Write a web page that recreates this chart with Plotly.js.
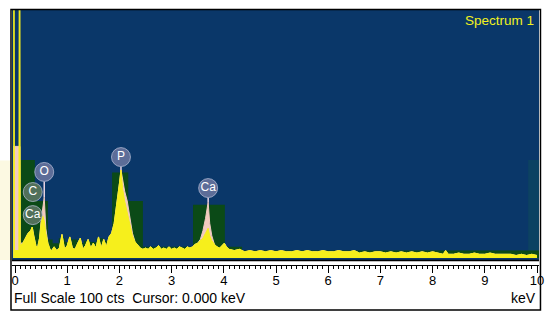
<!DOCTYPE html>
<html>
<head>
<meta charset="utf-8">
<script src="https://cdn.plot.ly/plotly-3.0.1.min.js"></script>
<style>html,body{margin:0;padding:0;background:#fff;}#chart{width:550px;height:320px;}</style>
</head>
<body>
<div id="chart"></div>
<script>
// Energy axis (keV) of the spectrum samples
const energy = [-0.035,-0.015,-0.01,0.075,0.08,0.095,0.10,0.15,0.20,0.25,0.30,0.33,0.36,0.40,0.43,0.47,0.50,0.53,0.56,0.59,0.63,0.67,0.70,0.75,0.80,0.85,0.90,0.95,1.00,1.05,1.10,1.15,1.20,1.25,1.30,1.35,1.40,1.45,1.50,1.55,1.60,1.65,1.70,1.75,1.80,1.85,1.90,1.95,2.00,2.03,2.06,2.10,2.15,2.20,2.25,2.30,2.35,2.40,2.45,2.50,2.55,2.60,2.65,2.70,2.75,2.80,2.85,2.90,2.95,3.00,3.05,3.10,3.15,3.20,3.25,3.30,3.35,3.40,3.45,3.50,3.55,3.60,3.65,3.70,3.73,3.77,3.82,3.87,3.92,3.97,4.01,4.05,4.10,4.20,4.30,4.40,4.50,4.60,4.70,4.80,4.90,5.00,5.10,5.20,5.30,5.40,5.50,5.60,5.70,5.80,5.90,6.00,6.10,6.20,6.30,6.40,6.50,6.60,6.70,6.80,6.90,7.00,7.10,7.20,7.30,7.40,7.50,7.60,7.70,7.80,7.90,8.00,8.10,8.20,8.25,8.30,8.40,8.50,8.60,8.70,8.80,8.90,9.00,9.10,9.20,9.30,9.40,9.50,9.60,9.70,9.80,9.90,10.00];
// Spectrum 1 counts (yellow)
const countsYellow = [105,105,3,3,105,105,5,6,8,10,11,12.5,9,5,4,8,14,17,15,10,6,3.5,3,4.5,3,4,9.5,3.5,5,8.5,4,3.5,6,8,3.5,5,7.5,4,6,4,8.5,4,7.5,4.5,8.5,10,14,21,30,35.5,28,23,18,13,9,6.5,5,4,3.5,4,3.5,4.5,3.5,4,5,3.5,4,3.5,4.5,3.5,4,3.5,4.5,4,3.5,4.5,4,4.5,5.5,6,7,8,10,12,9,7,5.5,4.5,4,5,6,4.5,3.5,3,3.5,2.5,3,2.5,3,2.5,3,2.5,3,2.5,2.5,3,2.5,3,2.5,2.5,3,2.5,2.5,3,2.5,2.5,3,2,2.5,2,2.5,2.5,2,2.5,2,2.5,2,2.5,2,2.5,2,2.5,2,1.5,3,1.5,1.5,2,1.5,1.5,2,1.5,1.5,2,1.5,1.5,1.5,1.5,1,1.5,1,1.5,1];
// Overlay counts (pink) showing above the yellow at the peak cores
const countsPink = [45,45,45,45,45,45,6,6,8,10,11,12.5,9,5,4,8,15,20,24.5,12,6,3.5,3,4.5,3,4,9.5,3.5,5,8.5,4,3.5,6,8,3.5,5,7.5,4,6,4,8.5,4,7.5,4.5,8.5,10,14,21,30,35.5,31,27,23,16,10,6.5,5,4,3.5,4,3.5,4.5,3.5,4,5,3.5,4,3.5,4.5,3.5,4,3.5,4.5,4,3.5,4.5,4,4.5,5.5,6,7.5,11,16,22.5,14,9,5.5,4.5,4,5,6,4.5,3.5,3,3.5,2.5,3,2.5,3,2.5,3,2.5,3,2.5,2.5,3,2.5,3,2.5,2.5,3,2.5,2.5,3,2.5,2.5,3,2,2.5,2,2.5,2.5,2,2.5,2,2.5,2,2.5,2,2.5,2,2.5,2,1.5,3,1.5,1.5,2,1.5,1.5,2,1.5,1.5,2,1.5,1.5,1.5,1.5,1,1.5,1,1.5,1];
// Stepped envelope (dark green)
const envEnergy = [0.09,0.38,0.63,0.72,0.84,0.96,1.08,1.20,1.32,1.44,1.56,1.68,1.86,2.17,2.45,3.41,4.02,4.35,10.04];
const envCounts = [39.5,23,7.5,6,8,6.5,7.5,6,7,6.5,8,7,34.5,23,4.5,21.5,4.5,3,3];
// Right-edge window
const winEnergy = [9.83,10.04];
const winCounts = [39.5,39.5];
// Element labels
const labelNames = ["P","Ca","O","C","Ca"];
const labelEnergy = [2.03,3.70,0.56,0.34,0.34];
const labelCounts = [40.7,28.2,34.7,26.6,17.3];
const labelPeak = [35.5,22.5,24.5,null,null];
const labelColors = ["#5d6d98","#5d6d98","#5d6d98","#52705a","#52705a"];
// Axis ticks
const tickVals = [0,1,2,3,4,5,6,7,8,9,10];
const tickText = ["0","1","2","3","4","5","6","7","8","9","10"];

const connX = [], connY = [];
labelNames.forEach((n,i)=>{
  if(labelPeak[i]!==null){connX.push(labelEnergy[i],labelEnergy[i],null);connY.push(labelCounts[i]-3.9,labelPeak[i],null);}
});

const traces = [
  {x:winEnergy,y:winCounts,type:'scatter',mode:'lines',fill:'tozeroy',fillcolor:'#0c4262',line:{width:0,shape:'hv'},hoverinfo:'skip'},
  {x:envEnergy,y:envCounts,type:'scatter',mode:'lines',fill:'tozeroy',fillcolor:'#0b4a17',line:{width:0,shape:'hv'},hoverinfo:'skip'},
  {x:energy,y:countsPink,type:'scatter',mode:'lines',fill:'tozeroy',fillcolor:'#f1cbbf',line:{width:1,color:'#f1cbbf'},hoverinfo:'skip'},
  {x:energy,y:countsYellow,type:'scatter',mode:'lines',fill:'tozeroy',fillcolor:'#f6ef1c',line:{width:1,color:'#f6ef1c'},hoverinfo:'skip'},
  {x:connX,y:connY,type:'scatter',mode:'lines',line:{width:1.5,color:'#ecd6e4'},hoverinfo:'skip'},
  {x:labelEnergy,y:labelCounts,type:'scatter',mode:'markers+text',text:labelNames,textposition:'middle center',
   textfont:{family:'Liberation Sans, Arial, sans-serif',size:12,color:'#ffffff'},
   marker:{size:19,color:labelColors,line:{width:1,color:'rgba(190,195,220,0.7)'}},hoverinfo:'skip'}
];

const layout = {
  width:550,height:320,
  margin:{l:12,r:11,t:10,b:55,pad:0},
  paper_bgcolor:'#ffffff',plot_bgcolor:'#ffffff',
  showlegend:false,
  font:{family:'Liberation Sans, Arial, sans-serif',color:'#000'},
  xaxis:{range:[-0.0575,10.038],fixedrange:true,showgrid:false,zeroline:false,
    showline:true,linecolor:'#000',linewidth:1,mirror:false,
    ticks:'outside',ticklen:7,tickwidth:1,tickcolor:'#000',
    tickmode:'array',tickvals:tickVals,ticktext:tickText,
    tickfont:{size:13,color:'#000'},ticklabelstandoff:-4,
    minor:{dtick:0.1,tick0:0,ticks:'outside',ticklen:3,tickcolor:'#000',tickwidth:1,showgrid:false}},
  yaxis:{range:[-2.82,100],visible:false,fixedrange:true,showgrid:false,zeroline:false},
  shapes:[
    {type:'rect',xref:'paper',yref:'y',x0:0,x1:1,y0:-0.9,y1:100,fillcolor:'#0a3769',line:{width:0},layer:'below'},
    {type:'line',xref:'paper',yref:'y',x0:0,x1:1,y0:-1.0,y1:-1.0,line:{color:'#000',width:1.5},layer:'above'},
    {type:'rect',xref:'paper',yref:'paper',x0:-0.03,x1:-0.0025,y0:0.02,y1:0.41,fillcolor:'#fcf9e2',line:{width:0},layer:'below'},
    {type:'rect',xref:'paper',yref:'paper',x0:-0.0019,x1:1.0028,y0:-0.1765,y1:1.002,line:{color:'#000',width:1.5},fillcolor:'rgba(0,0,0,0)',layer:'above'}
  ],
  annotations:[
    {text:'Spectrum 1',xref:'paper',yref:'paper',x:1,y:1,xanchor:'right',yanchor:'top',xshift:-3,yshift:-1,showarrow:false,
     font:{size:13.5,color:'#f2f21e',family:'Liberation Sans, Arial, sans-serif'}},
    {text:'Full Scale 100 cts \u00a0Cursor: 0.000 keV',xref:'paper',yref:'paper',x:0,y:-0.129,xanchor:'left',yanchor:'middle',showarrow:false,
     font:{size:14,color:'#000',family:'Liberation Sans, Arial, sans-serif'}},
    {text:'keV',xref:'paper',yref:'paper',x:1,y:-0.129,xanchor:'right',yanchor:'middle',xshift:-1,showarrow:false,
     font:{size:14,color:'#000',family:'Liberation Sans, Arial, sans-serif'}}
  ]
};
Plotly.newPlot('chart',traces,layout,{staticPlot:true,displayModeBar:false});
</script>
</body>
</html>
